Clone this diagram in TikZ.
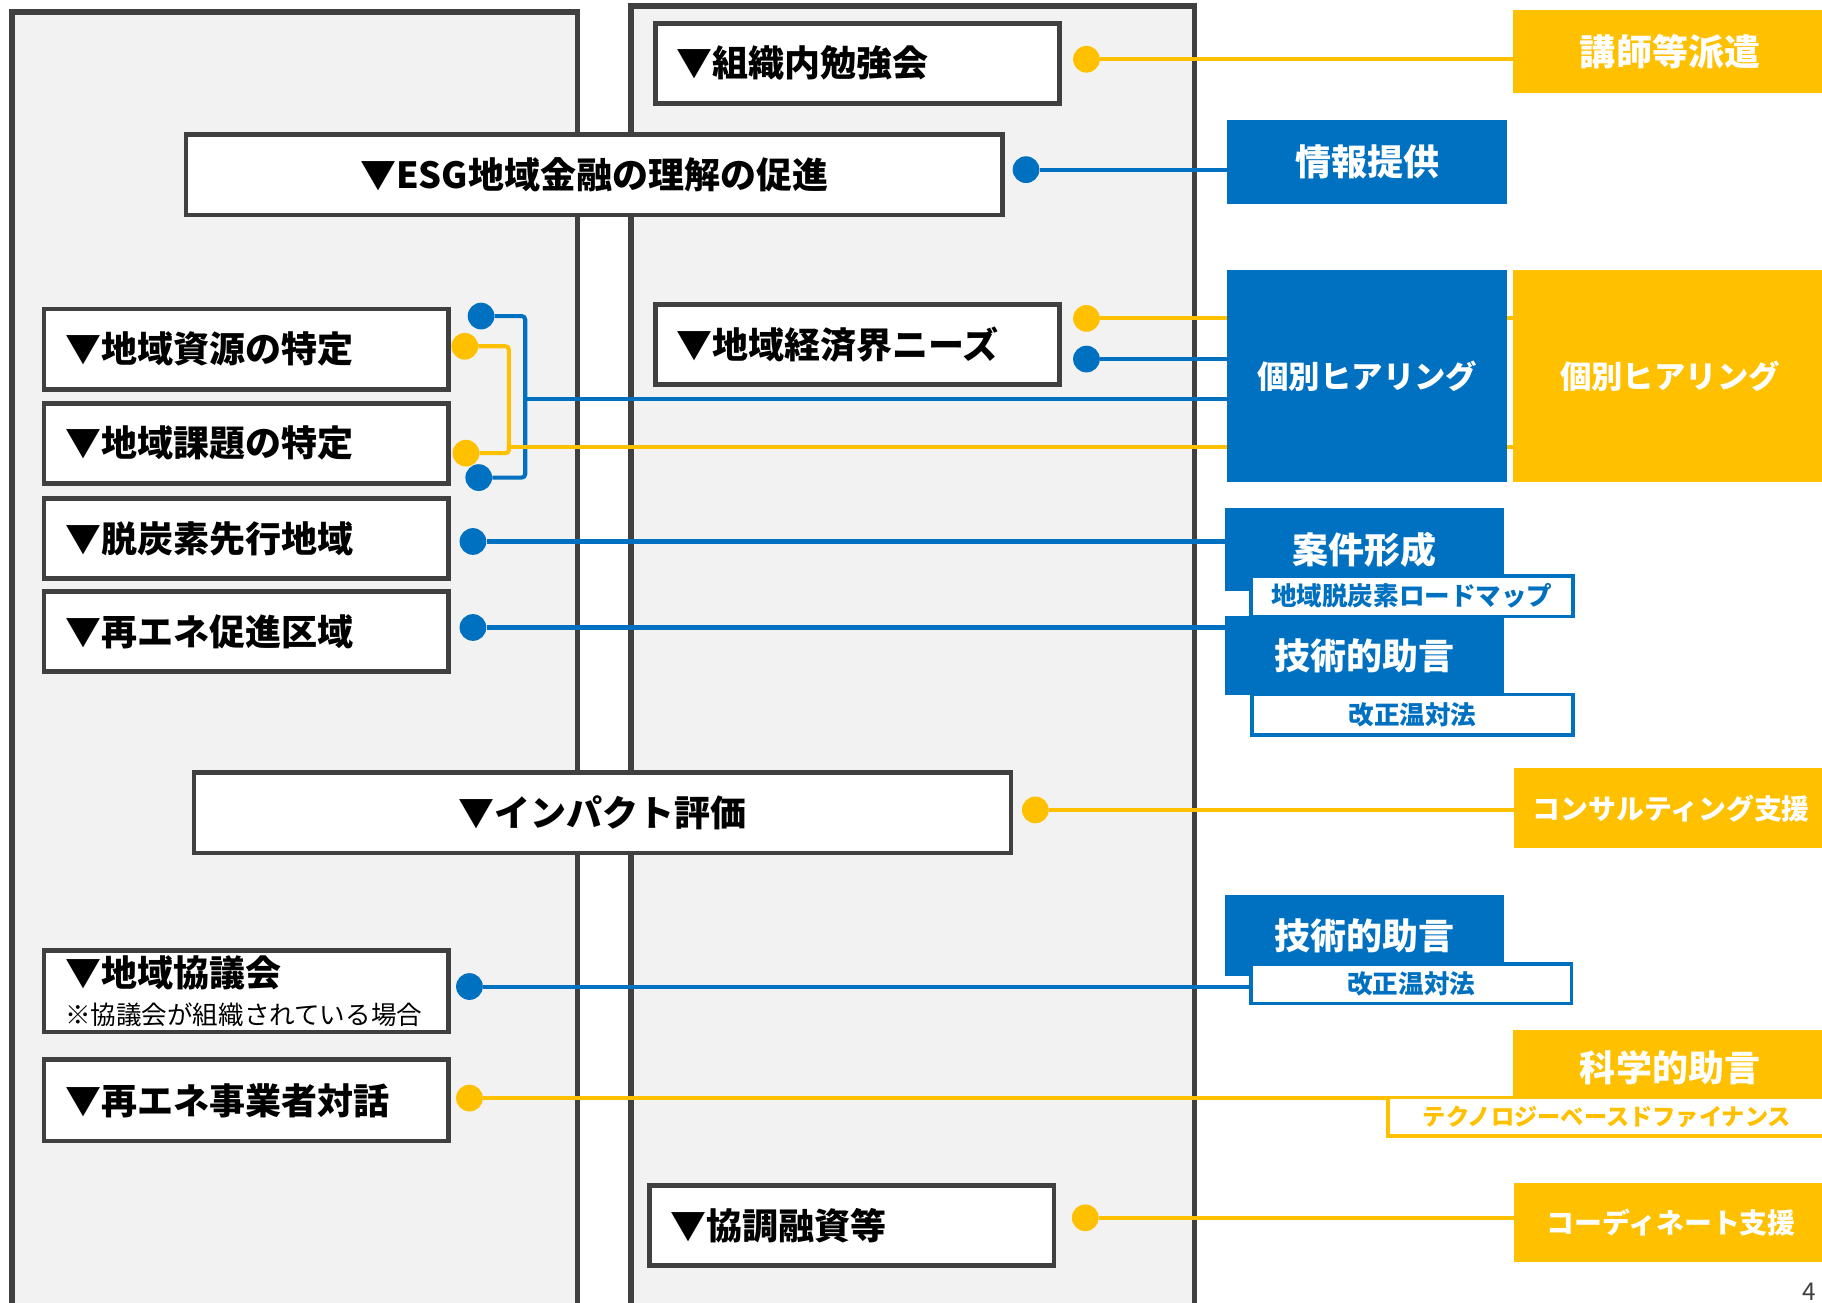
\documentclass[tikz,border=0pt]{standalone}
\usepackage{fontspec}
\setmainfont{Noto Sans CJK JP}
\usepackage{tikz}
\definecolor{edge}{HTML}{404040}
\definecolor{panelgray}{HTML}{F2F2F2}
\definecolor{esgblue}{HTML}{0070C0}
\definecolor{esgyellow}{HTML}{FFC000}
\pgfdeclarelayer{panels}
\pgfdeclarelayer{links}
\pgfsetlayers{panels,links,main}
\newcommand{\bigfont}{\bfseries\fontsize{31}{37}\selectfont}
\newcommand{\tagfont}[1]{\bfseries\fontsize{#1}{#1}\selectfont}

\begin{document}
\begin{tikzpicture}
    [
    x=1pt, y=-1pt,
    panel/.style = {draw=edge,line width=5pt,fill=panelgray},
    item/.style = {draw=edge,line width=4pt,fill=white,anchor=north west,minimum height=69pt,inner xsep=18pt,inner ysep=0pt,text width=312pt,align=left,font=\bigfont},
    tagb/.style = {fill=esgblue,text=white,anchor=north west,inner sep=0pt,font=\bigfont},
    tagy/.style = {fill=esgyellow,text=white,anchor=north west,inner sep=0pt,font=\bigfont},
    subb/.style = {draw=esgblue,line width=3pt,fill=white,text=esgblue,anchor=north west,inner sep=0pt,font=\tagfont{22}},
    suby/.style = {draw=esgyellow,line width=3pt,fill=white,text=esgyellow,anchor=north west,inner sep=0pt,font=\tagfont{20}},
    dot/.style = {circle,fill=#1,minimum size=23pt,inner sep=0pt},
    link/.style = {draw=#1,line width=3.5pt}
    ]
\useasboundingbox (0,0) rectangle (1568,1121);

\begin{pgfonlayer}{panels}
\draw[panel] (10,10) rectangle (497,1150);
\draw[panel] (543,5) rectangle (1028,1150);
\end{pgfonlayer}

% boxes in the panels
\node[item] (soshiki) at (562,18) {▼組織内勉強会};
\node[item,text width=667pt,align=center] (esg) at (158,114) {▼ESG地域金融の理解の促進};
\node[item] (shigen) at (36,264) {▼地域資源の特定};
\node[item] (kadai) at (36,345) {▼地域課題の特定};
\node[item] (datsu) at (36,427) {▼脱炭素先行地域};
\node[item] (saiene) at (36,507) {▼再エネ促進区域};
\node[item] (keizai) at (562,260) {▼地域経済界ニーズ};
\node[item,text width=667pt,align=center] (impact) at (165,663) {▼インパクト評価};
\node[item,minimum height=70pt] (kyogi) at (36,816) {▼地域協議会\\[-5pt]{\mdseries\fontsize{22}{26}\selectfont ※協議会が組織されている場合}};
\node[item,minimum height=70pt] (taiwa) at (36,910) {▼再エネ事業者対話};
\node[item] (kyocho) at (557,1018) {▼協調融資等};

% support on the right
\node[tagy,minimum width=270pt,minimum height=72pt] (haken) at (1302,8) {講師等派遣};
\node[tagb,minimum width=241pt,minimum height=72pt] (joho) at (1056,103) {情報提供};
\node[tagb,minimum width=241pt,minimum height=183pt,font=\tagfont{27}] (hearb) at (1056,232) {個別ヒアリング};
\node[tagy,minimum width=270pt,minimum height=183pt,font=\tagfont{27}] (heary) at (1302,232) {個別ヒアリング};
\node[tagb,minimum width=240pt,minimum height=71pt] (anken) at (1054,437) {案件形成};
\node[subb,minimum width=277pt,minimum height=35pt] (roadmap) at (1075,494) {地域脱炭素ロードマップ};
\node[tagb,minimum width=240pt,minimum height=68pt] (gijutsu) at (1054,530) {技術的助言};
\node[subb,minimum width=276pt,minimum height=35pt] (ontai) at (1076,596) {改正温対法};
\node[tagy,minimum width=270pt,minimum height=69pt,font=\tagfont{24}] (consul) at (1303,661) {コンサルティング支援};
\node[tagb,minimum width=240pt,minimum height=70pt] (gijutsub) at (1054,770) {技術的助言};
\node[subb,minimum width=276pt,minimum height=34pt] (ontaib) at (1075,828) {改正温対法};
\node[tagy,minimum width=270pt,minimum height=66pt] (kagaku) at (1302,886) {科学的助言};
\node[suby,minimum width=377pt,minimum height=33pt] (techno) at (1193,943) {テクノロジーベースドファイナンス};
\node[tagy,minimum width=270pt,minimum height=68pt,font=\tagfont{24}] (coord) at (1303,1018) {コーディネート支援};

\node[dot=esgyellow] (d1) at (935,51) {};
\node[dot=esgblue] (d2) at (883,146) {};
\node[dot=esgblue] (d3) at (414,272) {};
\node[dot=esgblue] (d4) at (412,411) {};
\node[dot=esgyellow] (d5) at (400,298) {};
\node[dot=esgyellow] (d6) at (401,390) {};
\node[dot=esgyellow] (d7) at (935,274) {};
\node[dot=esgblue] (d8) at (935,309) {};
\node[dot=esgblue] (d9) at (407,466) {};
\node[dot=esgblue] (d10) at (407,540) {};
\node[dot=esgyellow] (d11) at (891,697) {};
\node[dot=esgblue] (d12) at (404,849) {};
\node[dot=esgyellow] (d13) at (404,945) {};
\node[dot=esgyellow] (d14) at (934,1048) {};
\coordinate (bj) at (452,343);
\coordinate (yj) at (438,385);

\node[text=edge,font=\fontsize{21}{24}\selectfont] (pnum) at (1557,1112) {4};

\begin{pgfonlayer}{links}
\draw[link=esgyellow] (d1) -- (d1 -| haken.west);
\draw[link=esgblue] (d2) -- (d2 -| joho.west);
\draw[link=esgblue,rounded corners=3pt] (d3) -- (d3 -| bj) -- (d4 -| bj) -- (d4);
\draw[link=esgblue] (bj) -- (bj -| hearb.west);
\draw[link=esgyellow,rounded corners=3pt] (d5) -- (d5 -| yj) -- (d6 -| yj) -- (d6);
\draw[link=esgyellow] (yj) -- (yj -| heary.west);
\draw[link=esgyellow] (d7) -- (d7 -| heary.west);
\draw[link=esgblue] (d8) -- (d8 -| hearb.west);
\draw[link=esgblue] (d9) -- (d9 -| anken.west);
\draw[link=esgblue] (d10) -- (d10 -| gijutsu.west);
\draw[link=esgyellow] (d11) -- (d11 -| consul.west);
\draw[link=esgblue] (d12) -- (d12 -| ontaib.west);
\draw[link=esgyellow] (d13) -- (d13 -| techno.west);
\draw[link=esgyellow] (d14) -- (d14 -| coord.west);
\end{pgfonlayer}

\end{tikzpicture}
\end{document}
